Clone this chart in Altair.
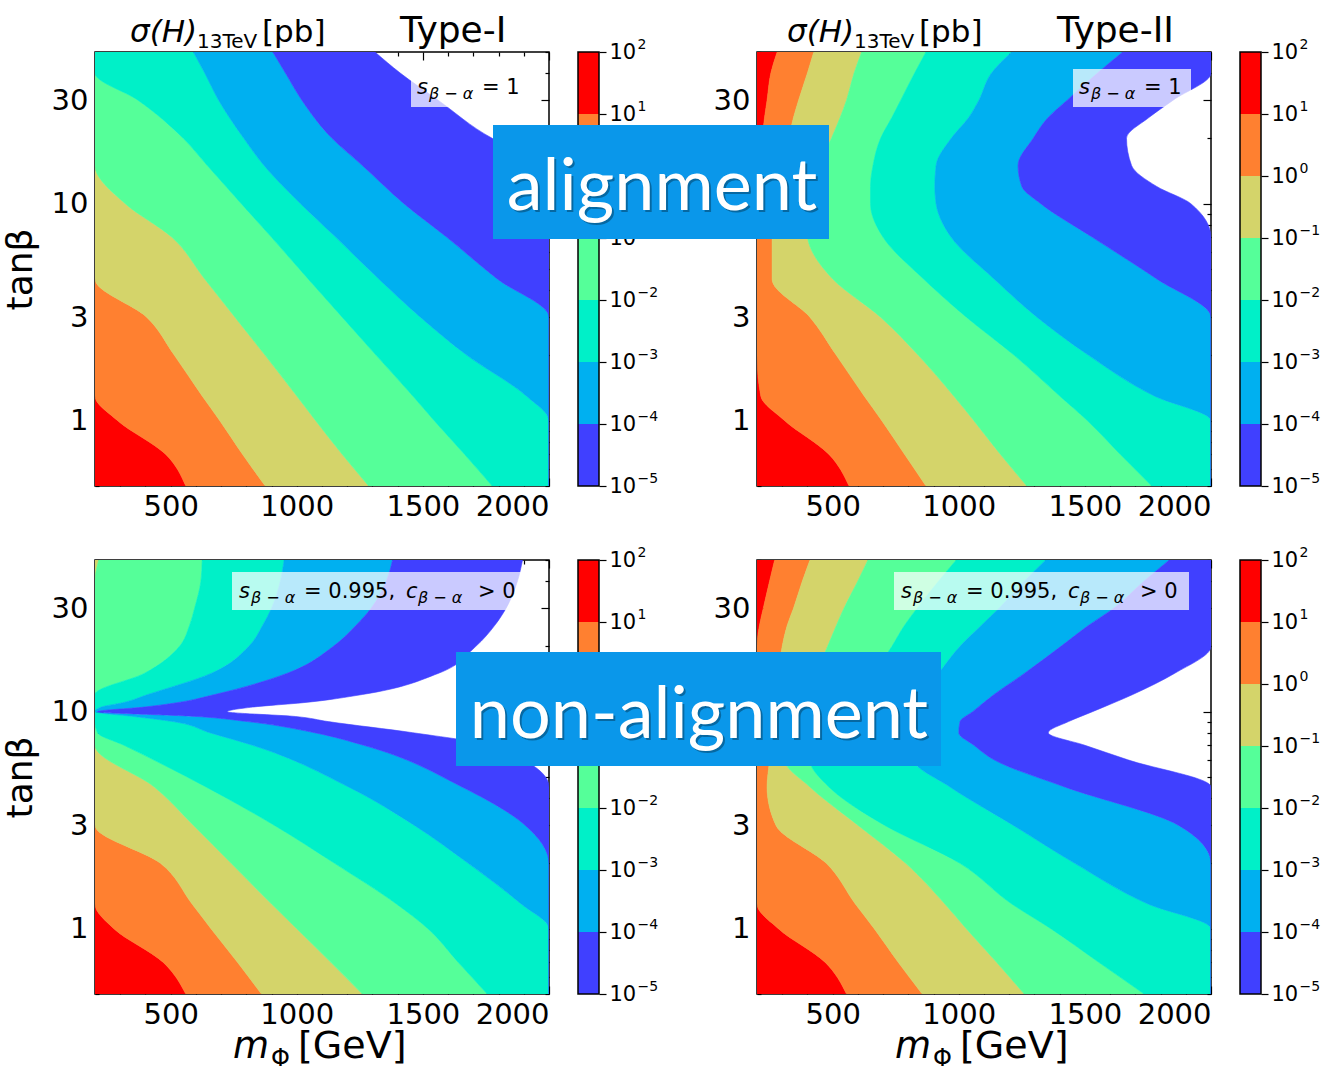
import altair as alt
import pandas as pd

# ---------------- axes ----------------
X_MIN, X_MAX = 200, 2000          # m_Phi [GeV]
TB_MIN, TB_MAX = 0.5, 50          # tan(beta)
X_LABELS = [500, 1000, 1500, 2000]
X_MINOR = [300, 400, 600, 700, 800, 900, 1100, 1200, 1300, 1400, 1600, 1700, 1800, 1900]
Y_LABELS = [1, 3, 10, 30]
Y_MINOR = [0.5, 0.6, 0.7, 0.8, 0.9, 2, 4, 5, 6, 7, 8, 9, 20, 40, 50]

# ---------------- cross-section bands [pb] ----------------
BAND_NAMES = ["1e1-1e2", "1e0-1e1", "1e-1-1e0", "1e-2-1e-1", "1e-3-1e-2", "1e-4-1e-3", "1e-5-1e-4"]
BAND_LO = [1e1, 1e0, 1e-1, 1e-2, 1e-3, 1e-4, 1e-5]
BAND_HI = [1e2, 1e1, 1e0, 1e-1, 1e-2, 1e-3, 1e-4]
BAND_COLORS = ["#ff0000", "#ff8030", "#d4d46a", "#55ff99", "#00f0c8", "#00b0f0", "#4040ff"]
CB_TICKS = [1e-5, 1e-4, 1e-3, 1e-2, 1e-1, 1, 10, 100]

# Contour edges: mass [GeV] of each band boundary at the given tan(beta).
# edges[k] separates band k (left, larger sigma) from band k+1; beyond the last edge sigma < 1e-5.

# Type-I, s_{beta-alpha} = 1
TL_TANB = [0.5, 0.7, 1.0, 1.3, 2, 3, 4.5, 7, 10, 15, 20, 30, 40, 50]
TL_EDGES = [
    [560, 480, 290, 200, 200, 200, 200, 200, 200, 200, 200, 200, 200, 200],
    [875, 785, 695, 625, 515, 405, 200, 200, 200, 200, 200, 200, 200, 200],
    [1285, 1180, 1075, 1000, 875, 755, 635, 505, 320, 200, 200, 200, 200, 200],
    [1775, 1665, 1545, 1460, 1315, 1180, 1045, 900, 780, 645, 550, 370, 200, 200],
    [2000, 2000, 2000, 1910, 1675, 1490, 1325, 1155, 1015, 870, 790, 690, 635, 590],
    [2000, 2000, 2000, 2000, 2000, 2000, 1795, 1595, 1425, 1260, 1140, 1020, 955, 905],
    [2000, 2000, 2000, 2000, 2000, 2000, 2000, 2000, 2000, 2000, 1775, 1560, 1410, 1310],
]

# Type-II, s_{beta-alpha} = 1
TR_TANB = [0.5, 0.7, 1.0, 1.3, 2, 3, 4.5, 7, 10, 12, 15, 20, 25, 30, 40, 50]
TR_EDGES = [
    [565, 485, 310, 215, 200, 200, 200, 200, 200, 200, 200, 220, 230, 240, 255, 280],
    [870, 785, 695, 625, 515, 410, 260, 260, 275, 285, 300, 325, 345, 365, 400, 425],
    [1270, 1165, 1060, 980, 840, 690, 500, 400, 390, 405, 445, 495, 530, 555, 585, 615],
    [1765, 1640, 1510, 1400, 1220, 1030, 860, 700, 650, 650, 660, 690, 735, 770, 825, 870],
    [2000, 2000, 2000, 1775, 1515, 1310, 1140, 970, 910, 905, 910, 970, 1040, 1080, 1130, 1210],
    [2000, 2000, 2000, 2000, 2000, 2000, 1785, 1530, 1325, 1250, 1235, 1295, 1355, 1430, 1550, 1650],
    [2000, 2000, 2000, 2000, 2000, 2000, 2000, 2000, 1920, 1785, 1685, 1665, 1755, 1850, 2000, 2000],
]

# Type-I, s_{beta-alpha} = 0.995, c_{beta-alpha} > 0
BL_TANB = [0.5, 0.7, 1.0, 1.3, 2, 3, 4.5, 7, 8, 9, 9.5, 10, 10.5, 11, 12, 15, 20, 25, 30, 40, 50]
BL_EDGES = [
    [560, 470, 275, 200, 200, 200, 200, 200, 200, 200, 200, 200, 200, 200, 200, 200, 200, 200, 200, 200, 200],
    [860, 765, 660, 585, 460, 200, 200, 200, 200, 200, 200, 200, 200, 200, 200, 200, 200, 200, 200, 200, 200],
    [1260, 1135, 1000, 900, 740, 590, 435, 200, 200, 200, 200, 200, 200, 200, 200, 200, 200, 200, 200, 200, 215],
    [1755, 1640, 1520, 1395, 1150, 910, 640, 315, 210, 200, 200, 200, 200, 200, 200, 395, 535, 575, 595, 620, 625],
    [2000, 2000, 2000, 1890, 1680, 1465, 1205, 825, 655, 510, 355, 200, 225, 310, 410, 660, 810, 865, 900, 935, 950],
    [2000, 2000, 2000, 2000, 2000, 1905, 1655, 1265, 1070, 805, 605, 210, 395, 525, 675, 960, 1145, 1235, 1295, 1355, 1380],
    [2000, 2000, 2000, 2000, 2000, 2000, 2000, 1760, 1460, 1125, 995, 725, 825, 1025, 1260, 1560, 1710, 1785, 1830, 1875, 1895],
]

# Type-II, s_{beta-alpha} = 0.995, c_{beta-alpha} > 0
BR_TANB = [0.5, 0.7, 1.0, 1.3, 2, 3, 4.5, 6, 7, 8, 9, 10, 12, 15, 20, 25, 30, 40, 50]
BR_EDGES = [
    [555, 470, 285, 200, 200, 200, 200, 200, 200, 200, 200, 200, 200, 200, 200, 210, 225, 250, 270],
    [855, 760, 665, 590, 475, 275, 240, 250, 255, 260, 265, 270, 270, 285, 300, 320, 345, 380, 410],
    [1260, 1150, 1030, 945, 790, 600, 410, 310, 320, 345, 360, 380, 405, 435, 480, 515, 545, 600, 640],
    [1735, 1555, 1365, 1210, 1005, 705, 485, 410, 450, 495, 530, 565, 615, 665, 735, 785, 835, 920, 990],
    [2000, 2000, 2000, 1750, 1460, 1215, 965, 820, 815, 810, 810, 820, 855, 920, 1005, 1090, 1160, 1260, 1345],
    [2000, 2000, 2000, 2000, 2000, 1870, 1420, 1140, 1060, 1000, 1005, 1055, 1140, 1260, 1405, 1515, 1615, 1735, 1835],
    [2000, 2000, 2000, 2000, 2000, 2000, 2000, 1670, 1500, 1355, 1435, 1530, 1690, 1855, 2000, 2000, 2000, 2000, 2000],
]

# ---------------- layout & style ----------------
W, H = 454, 434
CB_GAP, CB_W = 29, 21
FONT = "DejaVu Sans"
BOX_FONT = "Lato"
BOX_BLUE = "#0a97ea"
ONE = pd.DataFrame({"m": [1000], "t": [5]})

band_scale = alt.Scale(domain=BAND_NAMES, range=BAND_COLORS)
x_scale = alt.Scale(domain=[X_MIN, X_MAX], nice=False, zero=False)
y_scale = alt.Scale(type="log", domain=[TB_MIN, TB_MAX], nice=False)
cb_x = alt.Scale(domain=[0, 1], range=[W + CB_GAP, W + CB_GAP + CB_W])
cb_y = alt.Scale(type="log", domain=[1e-5, 1e2], nice=False)

# exponent of each colour-bar tick, written as a raised label next to "10"
CB_EXP = ("datum.value > 50 ? '2' : datum.value > 5 ? '1' : datum.value > 0.5 ? '0' : "
          "datum.value > 0.05 ? '−1' : datum.value > 0.005 ? '−2' : datum.value > 0.0005 ? '−3' : "
          "datum.value > 0.00005 ? '−4' : '−5'")


def contour_frame(tanb, edges):
    rows = []
    for k, name in enumerate(BAND_NAMES):
        lo_edge = [X_MIN] * len(tanb) if k == 0 else edges[k - 1]
        for t, lo, hi in zip(tanb, lo_edge, edges[k]):
            rows.append({"band": name, "tanb": t, "lo": lo, "hi": hi})
    return pd.DataFrame(rows)


def txt(text, x, y, size, italic=False, color="black", align="left", font=FONT, opacity=1.0):
    return alt.Chart(ONE).mark_text(
        text=text, fontSize=size, fontStyle="italic" if italic else "normal", align=align,
        baseline="alphabetic", color=color, font=font, opacity=opacity,
    ).encode(x=alt.value(x), y=alt.value(y))


def box(x, x2, y, y2, color, opacity=1.0):
    return alt.Chart(ONE).mark_rect(color=color, opacity=opacity).encode(
        x=alt.value(x), x2=alt.value(x2), y=alt.value(y), y2=alt.value(y2))


def tick_layer(xorient, yorient, xvals, yvals, size):
    ax = dict(labels=False, domain=False, grid=False, ticks=True, tickSize=size, offset=-size,
              tickColor="black", tickWidth=1.2, title=None)
    return alt.Chart(ONE).mark_point(opacity=0).encode(
        x=alt.X("m:Q", scale=x_scale, axis=alt.Axis(orient=xorient, values=xvals, **ax)),
        y=alt.Y("t:Q", scale=y_scale, axis=alt.Axis(orient=yorient, values=yvals, **ax)),
    )


def panel(tanb, edges, ytitle, extras):
    yaxis = dict(orient="left", values=Y_LABELS, format="d", ticks=False, tickSize=0, domain=False,
                 grid=False, labelPadding=7, labelFontSize=29)
    if ytitle:
        yaxis.update(title=ytitle, titleFontSize=36, titlePadding=12)
    else:
        yaxis.update(title=None)
    area = alt.Chart(contour_frame(tanb, edges)).mark_area(
        orient="horizontal", clip=True, strokeWidth=0.6, interpolate="monotone"
    ).encode(
        y=alt.Y("tanb:Q", scale=y_scale, axis=alt.Axis(**yaxis)),
        x=alt.X("lo:Q", scale=x_scale, stack=False,
                axis=alt.Axis(orient="bottom", values=X_LABELS, format="d", ticks=False, tickSize=0,
                              domain=False, grid=False, labelPadding=6, labelFontSize=29, title=None)),
        x2="hi:Q",
        color=alt.Color("band:N", scale=band_scale, legend=None),
        stroke=alt.Stroke("band:N", scale=band_scale, legend=None),
    )
    cb_df = pd.DataFrame({"band": BAND_NAMES, "lo": BAND_LO, "hi": BAND_HI, "x0": 0, "x1": 1})
    colorbar = alt.Chart(cb_df).mark_rect().encode(
        x=alt.X("x0:Q", scale=cb_x, axis=None), x2="x1:Q",
        y=alt.Y("lo:Q", scale=cb_y,
                axis=alt.Axis(orient="right", offset=CB_GAP + CB_W, values=CB_TICKS, labelExpr="'10'",
                              tickSize=7, tickColor="black", tickWidth=1.2, domain=False, grid=False,
                              labelPadding=3, labelFontSize=21, title=None)),
        y2="hi:Q",
        color=alt.Color("band:N", scale=band_scale, legend=None),
    )
    cb_frame_df = pd.DataFrame({"lo": [BAND_LO[-1]], "hi": [BAND_HI[0]], "x0": [0], "x1": [1]})
    cb_frame = alt.Chart(cb_frame_df).mark_rect(fillOpacity=0, stroke="black", strokeWidth=1.5).encode(
        x=alt.X("x0:Q", scale=cb_x, axis=None), x2="x1:Q",
        y=alt.Y("lo:Q", scale=cb_y,
                axis=alt.Axis(orient="right", offset=CB_GAP + CB_W, values=CB_TICKS, labelExpr=CB_EXP,
                              ticks=False, tickSize=0, domain=False, grid=False, labelPadding=38,
                              labelOffset=-8, labelFontSize=14, title=None)),
        y2="hi:Q",
    )
    layers = [
        area,
        tick_layer("bottom", "left", X_LABELS, Y_LABELS, 8),
        tick_layer("bottom", "left", X_MINOR, Y_MINOR, 4),
        tick_layer("top", "right", X_LABELS, Y_LABELS, 8),
        tick_layer("top", "right", X_MINOR, Y_MINOR, 4),
        colorbar,
        cb_frame,
    ] + extras
    return alt.layer(*layers).properties(width=W, height=H).resolve_scale(x="independent", y="independent")


def title_parts(x0, kind):
    return [
        txt("σ(H)", x0, -10, 31, italic=True),
        txt("13TeV", x0 + 67, -4, 20),
        txt("[pb]", x0 + 132, -10, 31),
        txt(kind, x0 + 270, -10, 36),
    ]


def note_one():
    return [
        box(316, 434, 17, 55, "white", 0.72),
        txt("s", 322, 42, 21, italic=True),
        txt("β − α", 334, 47, 16, italic=True),
        txt("= 1", 387, 42, 21),
    ]


def note_nonalign():
    return [
        box(137, 432, 12, 50, "white", 0.72),
        txt("s", 144, 38, 21, italic=True),
        txt("β − α", 156, 43, 16, italic=True),
        txt("= 0.995,", 209, 38, 21),
        txt("c", 311, 38, 21, italic=True),
        txt("β − α", 323, 43, 16, italic=True),
        txt("> 0", 383, 38, 21),
    ]


def mass_title():
    return [
        txt("m", 138, 498, 37, italic=True),
        txt("Φ", 176, 506, 24),
        txt("[GeV]", 203, 498, 38),
    ]


def banner(x, x2, y, y2, text, cx, base):
    return [
        box(x, x2, y, y2, BOX_BLUE),
        txt(text, cx + 2, base + 2, 72, color="black", align="center", font=BOX_FONT, opacity=0.3),
        txt(text, cx, base, 72, color="white", align="center", font=BOX_FONT),
    ]


tl = panel(TL_TANB, TL_EDGES, "tanβ", title_parts(35, "Type-I") + note_one())
tr = panel(TR_TANB, TR_EDGES, None,
           title_parts(30, "Type-II") + note_one()
           + banner(-264, 72, 73, 187, "alignment", -95, 158))
bl = panel(BL_TANB, BL_EDGES, "tanβ", note_nonalign() + mass_title())
br = panel(BR_TANB, BR_EDGES, None,
           note_nonalign() + mass_title()
           + banner(-301, 184, 92, 206, "non-alignment", -58, 178))

chart = alt.concat(
    tl, tr, bl, br, columns=2, spacing={"row": 74, "column": 208}, bounds="flush"
).properties(
    padding={"left": 1, "top": 12, "right": 5, "bottom": 5}, background="white"
).configure_view(
    stroke="black", strokeWidth=1.5
).configure_axis(
    labelFont=FONT, titleFont=FONT, labelColor="black", titleColor="black", titleFontWeight="normal"
)

chart.save("out.html", embed_options={"renderer": "svg", "actions": False})
